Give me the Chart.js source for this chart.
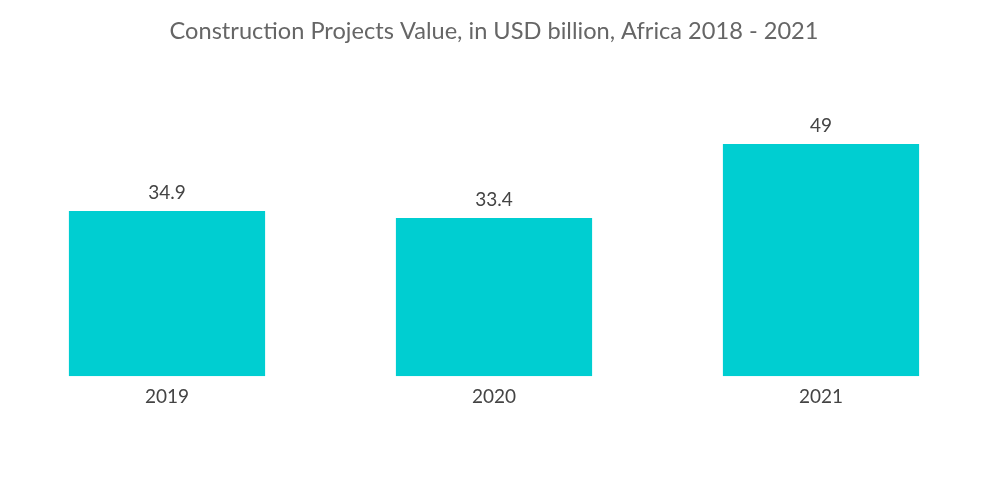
<!DOCTYPE html>
<html lang="en">
<head>
<meta charset="UTF-8">
<title>Construction Projects Value, Africa</title>
<style>
  body {
    margin: 0;
    padding: 0;
    background-color: #fff;
  }
  canvas {
    display: block;
  }
</style>
</head>
<body>
<canvas id="grafico" width="1000" height="504"></canvas>
<script src="https://cdn.jsdelivr.net/npm/chart.js"></script>
<script>
  const anos = ['2019', '2020', '2021'];
  const valores = [34.9, 33.4, 49];
  const rotulos = ['34.9', '33.4', '49'];

  // labels above each bar
  const rotulosBarras = {
    id: 'rotulosBarras',
    afterDatasetsDraw(chart) {
      const ctx = chart.ctx;
      const meta = chart.getDatasetMeta(0);
      ctx.save();
      ctx.font = '19px Lato, sans-serif';
      ctx.fillStyle = '#444';
      ctx.textAlign = 'center';
      ctx.textBaseline = 'middle';
      meta.data.forEach((bar, i) => {
        ctx.fillText(rotulos[i], bar.x, bar.y - 18);
      });
      ctx.restore();
    }
  };

  new Chart(document.getElementById('grafico'), {
    type: 'bar',
    data: {
      labels: anos,
      datasets: [{
        data: valores,
        backgroundColor: '#00CED1',
        borderWidth: 0,
        barPercentage: 0.6,
        categoryPercentage: 1
      }]
    },
    options: {
      responsive: false,
      animation: false,
      layout: {
        padding: { left: 3.5, right: 15.5, top: 0, bottom: 87 }
      },
      plugins: {
        legend: { display: false },
        tooltip: { enabled: false },
        title: {
          display: true,
          text: 'Construction Projects Value, in USD billion, Africa 2018 - 2021',
          color: '#666',
          font: { family: 'Lato, sans-serif', size: 23.6, weight: 'normal' },
          padding: { top: 17, bottom: 46.7 }
        }
      },
      scales: {
        x: {
          grid: { display: false, drawTicks: false },
          border: { display: false },
          ticks: {
            color: '#444',
            padding: 9,
            font: { family: 'Lato, sans-serif', size: 19 }
          }
        },
        y: {
          display: false,
          min: 0,
          max: 60
        }
      }
    },
    plugins: [rotulosBarras]
  });
</script>
</body>
</html>
